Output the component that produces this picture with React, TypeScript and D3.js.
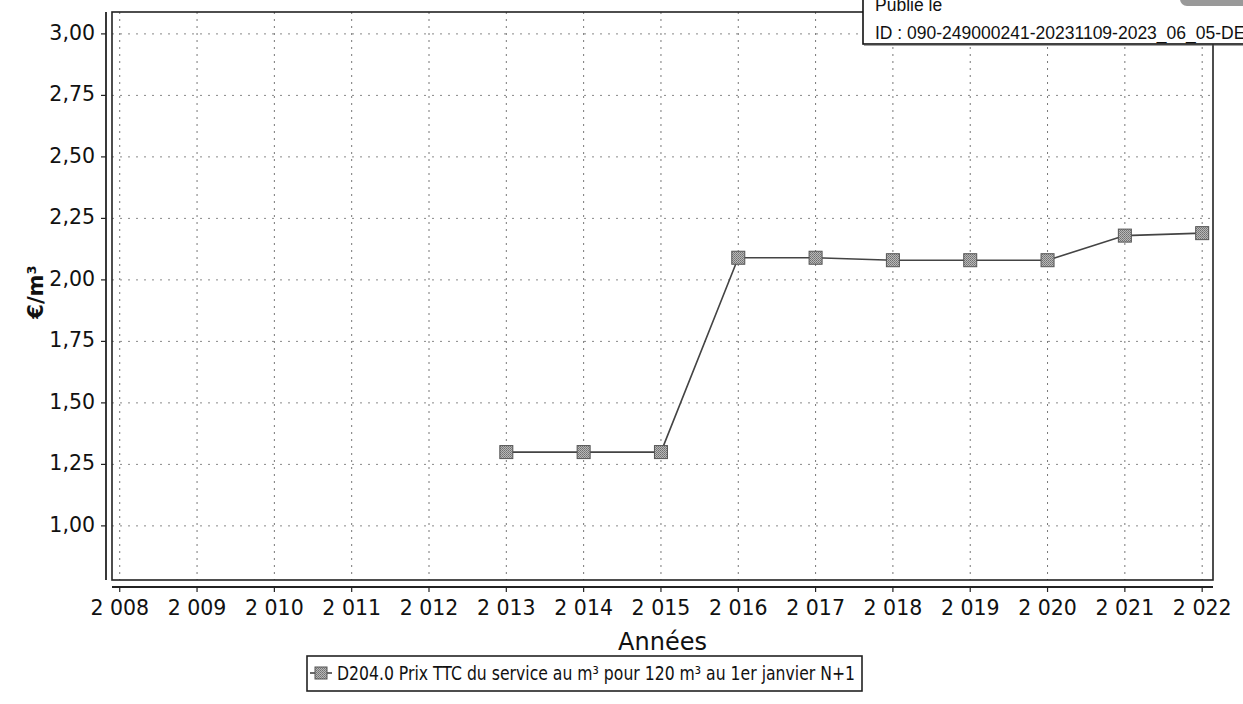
import React from "react";
import * as d3 from "d3";

const years = [2008, 2009, 2010, 2011, 2012, 2013, 2014, 2015, 2016, 2017, 2018, 2019, 2020, 2021, 2022];
const dataYears = [2013, 2014, 2015, 2016, 2017, 2018, 2019, 2020, 2021, 2022];
const dataValues = [1.30, 1.30, 1.30, 2.09, 2.09, 2.08, 2.08, 2.08, 2.18, 2.19];
const yTicks = [1.0, 1.25, 1.5, 1.75, 2.0, 2.25, 2.5, 2.75, 3.0];
const xTitle = "Années";
const yTitle = "€/m³";
const legendLabel = "D204.0 Prix TTC du service au m³ pour 120 m³ au 1er janvier N+1";
const stampLine1 = "Publié le";
const stampLine2 = "ID : 090-249000241-20231109-2023_06_05-DE";

const W = 1243;
const H = 704;
const L = 112, R = 1213, T = 12, B = 580;

export default function App() {
  const x = d3.scaleLinear().domain([2007.9, 2022.14]).range([L, R]);
  const y = d3.scaleLinear().domain([0.78, 3.089]).range([B, T]);
  const pts: [number, number][] = dataYears.map((yr, i) => [yr, dataValues[i]]);
  const line = d3.line<[number, number]>().x(d => x(d[0])).y(d => y(d[1]));
  const fmtY = (v: number) => v.toFixed(2).replace(".", ",");
  const fmtX = (v: number) => {
    const s = String(v);
    return s.slice(0, 1) + " " + s.slice(1);
  };
  const font = "'DejaVu Sans', sans-serif";
  return (
    <svg width={W} height={H} style={{ position: "absolute", left: 0, top: 0, background: "#fff" }}>
      <defs>
        <pattern id="dither" width="2" height="2" patternUnits="userSpaceOnUse">
          <rect width="2" height="2" fill="#b8b8b8" />
          <rect width="1" height="1" fill="#707070" />
          <rect x="1" y="1" width="1" height="1" fill="#808080" />
        </pattern>
      </defs>
      <rect x={0} y={0} width={W} height={H} fill="#fff" />
      {/* grid */}
      {years.map(yr => (
        <line key={"gx" + yr} x1={x(yr)} x2={x(yr)} y1={T} y2={B} stroke="#777" strokeWidth={1} strokeDasharray="2,5" />
      ))}
      {yTicks.map(v => (
        <line key={"gy" + v} x1={L} x2={R} y1={y(v)} y2={y(v)} stroke="#888" strokeWidth={1} strokeDasharray="2,6" />
      ))}
      {/* plot border */}
      <rect x={L} y={T} width={R - L} height={B - T} fill="none" stroke="#222" strokeWidth={1.6} />
      {/* y axis */}
      <line x1={106} x2={106} y1={T} y2={B} stroke="#222" strokeWidth={1.8} />
      {yTicks.map(v => (
        <g key={"ty" + v}>
          <line x1={101} x2={106} y1={y(v)} y2={y(v)} stroke="#222" strokeWidth={1.2} />
          <text x={95} y={y(v)} textAnchor="end" dominantBaseline="middle" fontFamily={font} fontSize={20.5} fill="#111">
            {fmtY(v)}
          </text>
        </g>
      ))}
      {/* x axis */}
      <line x1={L} x2={R} y1={587} y2={587} stroke="#222" strokeWidth={1.8} />
      {years.map(yr => (
        <g key={"tx" + yr}>
          <line x1={x(yr)} x2={x(yr)} y1={587} y2={592} stroke="#222" strokeWidth={1.2} />
          <text x={x(yr)} y={615} textAnchor="middle" fontFamily={font} fontSize={20.5} fill="#111">
            {fmtX(yr)}
          </text>
        </g>
      ))}
      <text x={(L + R) / 2} y={650} textAnchor="middle" fontFamily={font} fontSize={24} fill="#111">
        {xTitle}
      </text>
      <text transform={`translate(37, 292) rotate(-90)`} textAnchor="middle" dominantBaseline="middle" fontFamily={font} fontSize={21} fontWeight="bold" fill="#111">
        {yTitle}
      </text>
      {/* series */}
      <path d={line(pts) || ""} fill="none" stroke="#444" strokeWidth={1.6} />
      {pts.map(p => (
        <rect key={"m" + p[0]} x={x(p[0]) - 6.5} y={y(p[1]) - 6.5} width={13} height={13} fill="url(#dither)" stroke="#555" strokeWidth={1} />
      ))}
      {/* legend */}
      <rect x={307} y={656} width={555} height={35} fill="#fff" stroke="#222" strokeWidth={1.6} />
      <line x1={310} x2={332} y1={673} y2={673} stroke="#444" strokeWidth={1.6} />
      <rect x={315} y={667} width={12} height={12} fill="url(#dither)" stroke="#555" strokeWidth={1} />
      <text x={337} y={674} dominantBaseline="middle" fontFamily={font} fontSize={19} fill="#111" textLength={518} lengthAdjust="spacingAndGlyphs">
        {legendLabel}
      </text>
      {/* stamp */}
      <rect x={863} y={-5} width={400} height={49} fill="#fff" stroke="#111" strokeWidth={1.6} />
      <line x1={864} x2={1243} y1={45} y2={45} stroke="#444" strokeWidth={1} />
      <rect x={1180} y={-8} width={80} height={14} rx={7} fill="#999" />
      <text x={875} y={11} fontFamily="'Liberation Sans', Arial, sans-serif" fontSize={17.5} fill="#111">
        {stampLine1}
      </text>
      <text x={875} y={39} fontFamily="'Liberation Sans', Arial, sans-serif" fontSize={17.5} fill="#111">
        {stampLine2}
      </text>
    </svg>
  );
}
